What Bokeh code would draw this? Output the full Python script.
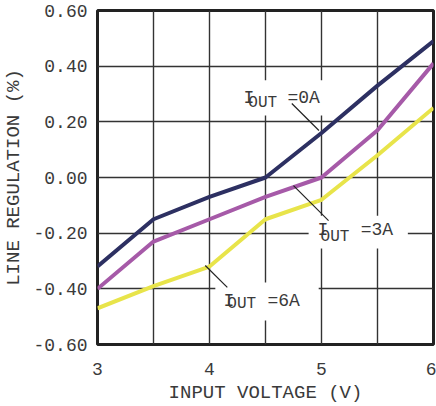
from bokeh.plotting import figure
from bokeh.models import FixedTicker
from bokeh.core.properties import value
from bokeh.embed import file_html
from bokeh.resources import INLINE

# ---- data ----
vin = [3.0, 3.5, 4.0, 4.5, 5.0, 5.5, 6.0]
reg_0a = [-0.32, -0.15, -0.07, 0.00, 0.16, 0.33, 0.49]
reg_3a = [-0.40, -0.23, -0.15, -0.07, 0.00, 0.17, 0.41]
reg_6a = [-0.47, -0.39, -0.32, -0.15, -0.08, 0.08, 0.25]

x_ticks = [3, 4, 5, 6]
x_grid = [3.0, 3.5, 4.0, 4.5, 5.0, 5.5, 6.0]
y_ticks = [-0.6, -0.4, -0.2, 0.0, 0.2, 0.4, 0.6]
y_tick_labels = ["-0.60", "-0.40", "-0.20", "0.00", "0.20", "0.40", "0.60"]

FONT = "Liberation Mono"
TXT = "#3a3a3a"

p = figure(width=436, height=406, x_range=(3, 6), y_range=(-0.6, 0.6),
           output_backend="svg", toolbar_location=None,
           min_border_left=97, min_border_right=3, min_border_top=10,
           min_border_bottom=62)
p.background_fill_color = "white"
p.border_fill_color = "white"
p.outline_line_color = "#222222"
p.outline_line_width = 3

p.xaxis.ticker = FixedTicker(ticks=x_ticks)
p.yaxis.ticker = FixedTicker(ticks=y_ticks)
p.xgrid.ticker = FixedTicker(ticks=x_grid)
p.ygrid.ticker = FixedTicker(ticks=y_ticks)
p.yaxis.major_label_overrides = {t: l for t, l in zip(y_ticks, y_tick_labels)}
for g in (p.xgrid, p.ygrid):
    g.grid_line_color = "#333333"
    g.grid_line_width = 1.4
for ax in (p.xaxis, p.yaxis):
    ax.axis_line_color = None
    ax.major_tick_line_color = None
    ax.minor_tick_line_color = None
    ax.major_tick_out = 0
    ax.major_tick_in = 0
    ax.major_label_text_font = FONT
    ax.major_label_text_font_size = "18px"
    ax.major_label_text_color = TXT
    ax.axis_label_text_font = FONT
    ax.axis_label_text_font_size = "19px"
    ax.axis_label_text_font_style = "normal"
    ax.axis_label_text_color = TXT
p.xaxis.axis_label = "INPUT VOLTAGE (V)"
p.yaxis.axis_label = "LINE REGULATION (%)"
p.xaxis.major_label_standoff = 18
p.xaxis.axis_label_standoff = 4
p.yaxis.major_label_standoff = 10
p.yaxis.axis_label_standoff = 5

# white label boxes (annotation backgrounds)
p.quad(left=[4.26, 4.885, 4.052], right=[5.08, 5.771, 4.975],
       bottom=[0.223, -0.255, -0.514], top=[0.349, -0.137, -0.377],
       fill_color="white", line_color=None)

# series
p.line(vin, reg_0a, line_color="#2d3062", line_width=4)
p.line(vin, reg_3a, line_color="#a65aa8", line_width=4)
p.line(vin, reg_6a, line_color="#e8e44a", line_width=4)

# leader lines
p.segment(x0=[4.735, 4.750, 3.962], y0=[0.266, -0.029, -0.316],
          x1=[4.977, 5.063, 4.159], y1=[0.169, -0.155, -0.395],
          line_color="#222222", line_width=1.2)

# labels
p.text(x=[4.303, 4.965, 4.124], y=[0.2857, -0.187, -0.442], text=["I", "I", "I"],
       text_font=value(FONT), text_font_size="18px", text_color=TXT,
       text_baseline="middle", text_align="left")
p.text(x=[4.347, 4.992, 4.159], y=[0.266, -0.212, -0.456], text=["OUT", "OUT", "OUT"],
       text_font=value(FONT), text_font_size="16px", text_color=TXT,
       text_baseline="middle", text_align="left")
p.text(x=[4.696, 5.350, 4.517], y=[0.2857, -0.187, -0.442], text=["=0A", "=3A", "=6A"],
       text_font=value(FONT), text_font_size="18px", text_color=TXT,
       text_baseline="middle", text_align="left")

open("out.html", "w").write(file_html(p, INLINE))
